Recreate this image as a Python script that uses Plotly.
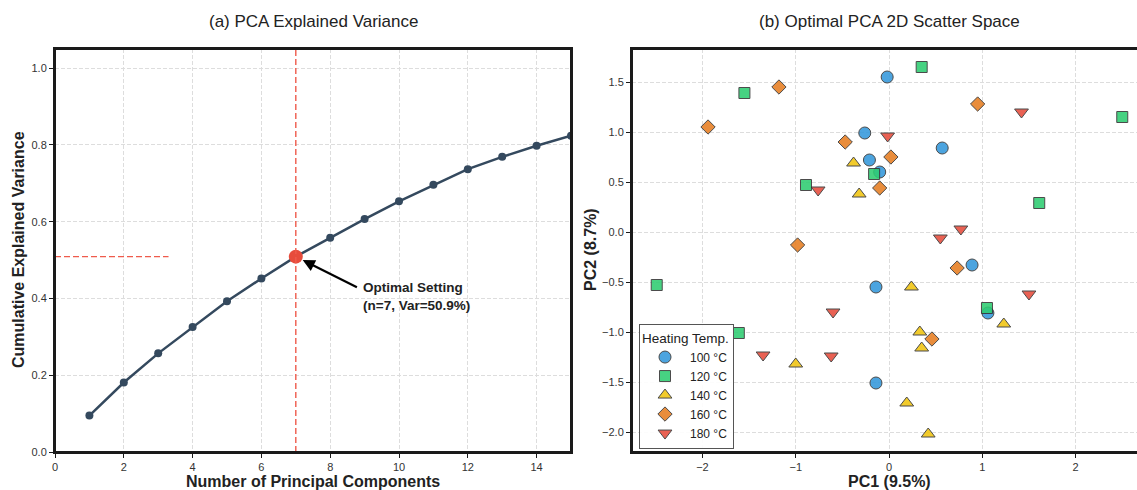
import plotly.graph_objects as go
from plotly.subplots import make_subplots

W, H = 1137, 490
FONT = "Liberation Sans, Arial, sans-serif"

# ---- data: cumulative explained variance ----
n_components = list(range(1, 16))
cum_var = [0.095, 0.181, 0.257, 0.326, 0.393, 0.452, 0.509, 0.558, 0.607,
           0.653, 0.696, 0.737, 0.769, 0.798, 0.824]
opt_n = 7
opt_var = cum_var[opt_n - 1]

# ---- data: PCA scatter (PC1, PC2) per heating temperature ----
groups = ["100 °C", "120 °C", "140 °C", "160 °C", "180 °C"]
pc1_100 = [-0.02, -0.26, 0.57, -0.21, -0.10, 0.89, -0.14, 1.06, -0.14]
pc2_100 = [1.55, 0.99, 0.84, 0.72, 0.60, -0.33, -0.55, -0.81, -1.51]
pc1_120 = [0.35, -1.55, 2.50, -0.16, -0.89, 1.61, -2.49, 1.05, -1.61]
pc2_120 = [1.65, 1.39, 1.15, 0.58, 0.47, 0.29, -0.53, -0.76, -1.01]
pc1_140 = [-0.38, -0.32, 0.24, 1.23, 0.33, 0.35, -1.00, 0.19, 0.42]
pc2_140 = [0.69, 0.38, -0.55, -0.92, -1.00, -1.16, -1.32, -1.71, -2.02]
pc1_160 = [-1.18, -1.94, 0.95, -0.47, 0.02, -0.10, -0.98, 0.73, 0.46]
pc2_160 = [1.45, 1.05, 1.28, 0.90, 0.75, 0.44, -0.13, -0.36, -1.07]
pc1_180 = [1.42, -0.015, -0.76, 0.77, 0.55, 1.50, -0.60, -1.35, -0.62]
pc2_180 = [1.20, 0.96, 0.42, 0.03, -0.06, -0.62, -0.80, -1.23, -1.24]

pc1 = [pc1_100, pc1_120, pc1_140, pc1_160, pc1_180]
pc2 = [pc2_100, pc2_120, pc2_140, pc2_160, pc2_180]
colors = ["#3498db", "#2ecc71", "#f1c40f", "#e67e22", "#e74c3c"]
symbols = ["circle", "square", "triangle-up", "diamond", "triangle-down"]
sizes = [12, 11, 12, 11, 12]

fig = make_subplots(rows=1, cols=2)

# Left: cumulative variance curve
fig.add_trace(go.Scatter(
    x=n_components, y=cum_var, mode="lines+markers",
    line=dict(color="#34495e", width=2.5),
    marker=dict(color="#34495e", size=8),
    showlegend=False), row=1, col=1)
fig.add_trace(go.Scatter(
    x=[opt_n], y=[opt_var], mode="markers",
    marker=dict(color="#e74c3c", size=14),
    showlegend=False), row=1, col=1)

# Right: scatter by group
for g, xs, ys, c, s, sz in zip(groups, pc1, pc2, colors, symbols, sizes):
    fig.add_trace(go.Scatter(
        x=xs, y=ys, mode="markers", name=g,
        marker=dict(color=c, symbol=s, size=sz, opacity=0.88,
                    line=dict(color="#333333", width=1))), row=1, col=2)

ydom = [1 - 452 / H, 1 - 49 / H]
LINE = "#1a1a1a"
axis_common = dict(
    showline=True, linecolor=LINE, linewidth=2,
    ticks="outside", ticklen=4, tickwidth=1.3, tickcolor=LINE,
    tickfont=dict(family=FONT, size=11, color="#333333"),
    showgrid=True, gridcolor="#dddddd", gridwidth=0.8, griddash="4px,2px",
    zeroline=False,
)
fig.update_layout(
    template="none",
    xaxis=dict(domain=[55 / W, 571 / W], range=[0, 15], dtick=2, tick0=0,
               mirror=True, **axis_common),
    yaxis=dict(domain=ydom, range=[0, 1.05], dtick=0.2, tick0=0,
               tickformat=".1f", mirror=True, **axis_common),
    xaxis2=dict(domain=[632 / W, 1.0], range=[-2.755, 2.658], dtick=1,
                tick0=0, mirror=True, **axis_common),
    yaxis2=dict(domain=ydom, range=[-2.2, 1.83], dtick=0.5, tick0=0,
                tickformat=".1f", mirror=False, **axis_common),
)

# Reference lines at optimal setting
fig.add_shape(type="line", xref="x", yref="y domain", x0=opt_n, x1=opt_n,
              y0=0, y1=1, line=dict(color="#ef5b4c", width=1.4, dash="6px,3px"))
fig.add_shape(type="line", xref="x domain", yref="y", x0=0, x1=0.22,
              y0=opt_var, y1=opt_var,
              line=dict(color="#ef5b4c", width=1.4, dash="6px,3px"))

# Frames (axes spines)
fig.add_shape(type="rect", xref="x domain", yref="y domain", x0=0, x1=1,
              y0=0, y1=1, line=dict(color=LINE, width=2), layer="above")
for y in (0, 1):
    fig.add_shape(type="line", xref="x2 domain", yref="y2 domain", x0=0, x1=1,
                  y0=y, y1=y, line=dict(color=LINE, width=2), layer="above")
fig.add_shape(type="line", xref="x2 domain", yref="y2 domain", x0=0, x1=0,
              y0=0, y1=1, line=dict(color=LINE, width=2), layer="above")

annotations = [
    # arrow
    dict(x=7.2, y=0.500, ax=8.82, ay=0.427, xref="x", yref="y",
         axref="x", ayref="y", text="", showarrow=True, arrowhead=2,
         arrowsize=1.1, arrowwidth=2.2, arrowcolor="#000000"),
    dict(x=8.9, y=0.405, xref="x", yref="y", xanchor="left", yanchor="middle",
         align="left", showarrow=False,
         text="<b>Optimal Setting<br>(n=7, Var=50.9%)</b>",
         font=dict(family=FONT, size=13.5, color="#222222")),
    # titles
    dict(x=313 / W, y=1 - 22 / H, xref="paper", yref="paper", showarrow=False,
         text="(a) PCA Explained Variance", xanchor="center", yanchor="middle",
         font=dict(family=FONT, size=17, color="#222222")),
    dict(x=889 / W, y=1 - 22 / H, xref="paper", yref="paper", showarrow=False,
         text="(b) Optimal PCA 2D Scatter Space", xanchor="center",
         yanchor="middle", font=dict(family=FONT, size=17, color="#222222")),
    # axis titles
    dict(x=313 / W, y=1 - 481 / H, xref="paper", yref="paper", showarrow=False,
         text="<b>Number of Principal Components</b>", xanchor="center",
         yanchor="middle", font=dict(family=FONT, size=16, color="#222222")),
    dict(x=18 / W, y=1 - 250 / H, xref="paper", yref="paper", showarrow=False,
         text="<b>Cumulative Explained Variance</b>", textangle=-90,
         xanchor="center", yanchor="middle",
         font=dict(family=FONT, size=16, color="#222222")),
    dict(x=889 / W, y=1 - 481 / H, xref="paper", yref="paper", showarrow=False,
         text="<b>PC1 (9.5%)</b>", xanchor="center", yanchor="middle",
         font=dict(family=FONT, size=16, color="#222222")),
    dict(x=590 / W, y=1 - 250 / H, xref="paper", yref="paper", showarrow=False,
         text="<b>PC2 (8.7%)</b>", textangle=-90, xanchor="center",
         yanchor="middle", font=dict(family=FONT, size=16, color="#222222")),
]

fig.update_layout(
    width=W, height=H, margin=dict(l=0, r=0, t=0, b=0),
    paper_bgcolor="white", plot_bgcolor="white",
    font=dict(family=FONT, color="#222222"),
    annotations=annotations,
    legend=dict(
        title=dict(text="Heating Temp.", font=dict(family=FONT, size=13.5, color="#222222")),
        x=639 / W, y=1 - 449 / H, xanchor="left", yanchor="bottom",
        bgcolor="rgba(255,255,255,0.9)", bordercolor="#555555", borderwidth=1,
        font=dict(family=FONT, size=12, color="#222222"),
        tracegroupgap=0, itemwidth=40,
    ),
)

fig.write_html("out.html", config={"displayModeBar": False},
               post_script="document.body.style.margin='0';"
                           "document.body.style.overflow='hidden';")
